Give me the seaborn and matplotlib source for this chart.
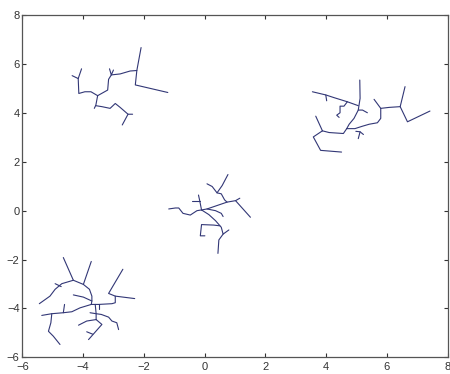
import pandas as pd
import matplotlib
matplotlib.use("Agg")
import matplotlib.pyplot as plt
import seaborn as sns

# branches of the four trees, each one a polyline (x list, y list)
tree_top_left = [
    ([-2.09, -2.23, -2.28, -1.21], [6.68, 5.74, 5.15, 4.84]),
    ([-2.23, -2.45, -2.78, -3.07], [5.74, 5.72, 5.60, 5.56]),
    ([-3.13, -3.07, -3.00], [5.81, 5.56, 5.76]),
    ([-3.07, -3.16, -3.19, -3.52], [5.56, 5.38, 4.94, 4.71]),
    ([-3.52, -3.74, -3.94, -4.14, -4.16, -4.05], [4.71, 4.87, 4.87, 4.80, 5.41, 5.81]),
    ([-4.16, -4.36], [5.41, 5.53]),
    ([-3.52, -3.58, -3.63], [4.71, 4.32, 4.19]),
    ([-3.58, -3.38, -3.11, -2.94, -2.78, -2.52, -2.37], [4.30, 4.26, 4.19, 4.39, 4.23, 3.95, 3.95]),
    ([-2.52, -2.71], [3.95, 3.51]),
]

tree_top_right = [
    ([5.11, 5.12, 5.06, 4.92, 4.76, 4.68], [5.35, 4.60, 4.12, 3.78, 3.54, 3.36]),
    ([3.55, 3.99, 4.26, 4.70, 5.06], [4.87, 4.74, 4.63, 4.46, 4.30]),
    ([3.99, 4.02], [4.74, 4.50]),
    ([4.70, 4.59, 4.46, 4.46, 4.35, 4.43], [4.46, 4.28, 4.28, 4.01, 3.91, 3.82]),
    ([5.06, 5.20, 5.36], [4.12, 4.12, 4.01]),
    ([4.68, 4.57, 4.10, 3.88], [3.36, 3.16, 3.20, 3.27]),
    ([3.66, 3.88], [3.87, 3.27]),
    ([3.88, 3.58, 3.82, 4.51], [3.27, 3.02, 2.47, 2.40]),
    ([4.68, 4.95, 5.20, 5.42, 5.69, 5.80, 5.80, 5.58], [3.36, 3.36, 3.46, 3.54, 3.60, 3.78, 4.19, 4.56]),
    ([5.80, 6.08, 6.44, 6.60], [4.19, 4.23, 4.26, 5.08]),
    ([6.44, 6.68, 7.42], [4.26, 3.64, 4.08]),
    ([4.98, 5.12, 5.23], [3.25, 3.23, 3.12]),
    ([5.12, 5.06], [3.23, 2.95]),
]

tree_center = [
    ([-1.18, -0.96, -0.85, -0.71, -0.47, -0.25, -0.10], [0.07, 0.11, 0.11, -0.11, -0.18, 0.00, 0.03]),
    ([-0.10, -0.16, -0.20], [0.03, 0.41, 0.64]),
    ([-0.16, -0.43], [0.41, 0.41]),
    ([-0.10, 0.08, 0.41, 0.74, 1.02, 1.51], [0.03, 0.07, 0.21, 0.35, 0.41, -0.27]),
    ([1.02, 1.16], [0.41, 0.51]),
    ([0.77, 0.58, 0.41, 0.25, 0.08], [1.48, 1.03, 0.73, 0.99, 1.10]),
    ([0.41, 0.55, 0.66, 0.74], [0.73, 0.69, 0.44, 0.35]),
    ([-0.10, 0.14, 0.36, 0.55, 0.61, 0.80], [0.03, -0.16, -0.41, -0.68, -0.96, -0.79]),
    ([0.61, 0.47, 0.44], [-0.96, -1.20, -1.75]),
    ([0.50, 0.30, -0.10, -0.14, 0.01], [-0.62, -0.59, -0.57, -1.03, -1.03]),
    ([0.08, 0.36, 0.55, 0.61], [0.07, 0.00, -0.11, -0.24]),
]

tree_bottom_left = [
    ([-4.65, -4.32], [-1.92, -2.85]),
    ([-3.73, -3.99], [-2.08, -3.02]),
    ([-5.44, -5.09, -4.92, -4.70, -4.32, -3.99, -3.79, -3.71, -3.71, -3.73],
     [-3.81, -3.50, -3.22, -2.99, -2.85, -3.02, -3.22, -3.50, -3.70, -3.84]),
    ([-4.92, -4.72], [-2.99, -3.11]),
    ([-4.32, -3.99, -3.71], [-3.45, -3.54, -3.70]),
    ([-3.73, -3.49, -3.05, -2.94, -2.94, -3.16, -2.69], [-3.84, -3.84, -3.81, -3.77, -3.50, -3.39, -2.40]),
    ([-2.94, -2.30], [-3.50, -3.60]),
    ([-3.49, -3.49], [-3.84, -4.04]),
    ([-3.73, -4.10, -4.37, -4.65, -5.03, -5.36], [-3.84, -3.98, -4.14, -4.18, -4.22, -4.29]),
    ([-4.61, -4.65], [-3.84, -4.18]),
    ([-5.03, -5.06, -5.14, -4.98, -4.76], [-4.22, -4.59, -4.94, -5.14, -5.48]),
    ([-3.60, -3.57, -3.57], [-3.84, -4.22, -4.46]),
    ([-3.77, -3.57, -3.40, -3.16, -3.05, -2.89, -2.83], [-4.18, -4.22, -4.25, -4.36, -4.52, -4.59, -4.87]),
    ([-3.57, -3.88, -4.15], [-4.46, -4.52, -4.69]),
    ([-3.57, -3.38, -3.82], [-4.46, -4.66, -5.28]),
    ([-3.88, -3.68], [-4.96, -5.06]),
]

x_ticks = [-6, -4, -2, 0, 2, 4, 6, 8]
y_ticks = [-6, -4, -2, 0, 2, 4, 6, 8]

# one long table, one unit per branch
rows = []
n = 0
for tree in [tree_top_left, tree_top_right, tree_center, tree_bottom_left]:
    for xs, ys in tree:
        for x, y in zip(xs, ys):
            rows.append({"x": x, "y": y, "branch": n})
        n += 1
df = pd.DataFrame(rows)

sns.set_style("ticks")
plt.rcParams["font.family"] = ["Liberation Sans", "DejaVu Sans"]

fig = plt.figure(figsize=(4.5, 3.74), dpi=100)
ax = fig.add_axes([0.0496, 0.045, 0.945, 0.914])
sns.lineplot(data=df, x="x", y="y", units="branch", estimator=None, sort=False,
             color="#323776", linewidth=0.8, ax=ax)

ax.set_xlim(-6, 8)
ax.set_ylim(-6, 8)
ax.set_xticks(x_ticks)
ax.set_yticks(y_ticks)
ax.set_xlabel("")
ax.set_ylabel("")
ax.tick_params(direction="in", length=3, width=0.8, top=True, right=True,
               labelsize=8, colors="#333333")
ax.tick_params(axis="x", pad=3.5)
ax.tick_params(axis="y", pad=2)
for s in ax.spines.values():
    s.set_visible(True)
    s.set_color("#555555")
    s.set_linewidth(0.9)

fig.savefig("out.png", dpi=100)
